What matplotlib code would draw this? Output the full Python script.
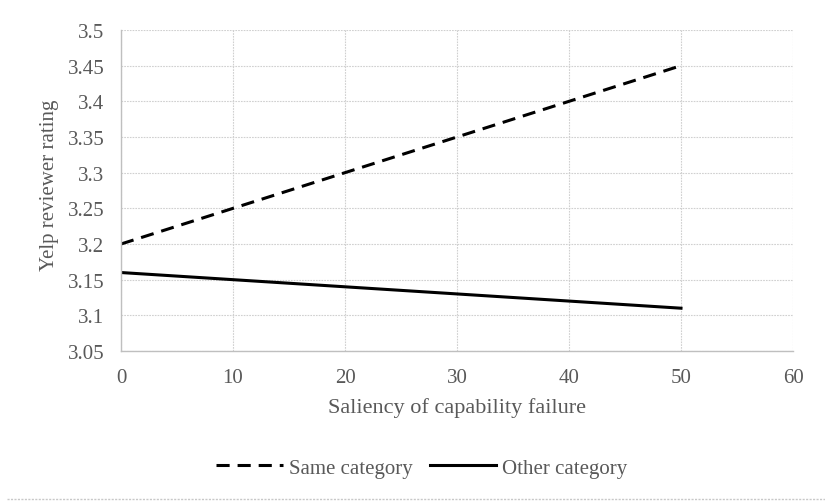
import matplotlib.pyplot as plt

# Data
saliency = [0, 10, 20, 30, 40, 50]
same_category = [3.20, 3.25, 3.30, 3.35, 3.40, 3.45]
other_category = [3.16, 3.15, 3.14, 3.13, 3.12, 3.11]

plt.rcParams['font.family'] = ['Liberation Serif', 'DejaVu Serif']

fig = plt.figure(figsize=(8.25, 5.02), dpi=100)
ax = fig.add_axes([121 / 825, 1 - 352 / 502, (793 - 121) / 825, (352 - 31) / 502])

gray = '#595959'
ax.plot(saliency, same_category, color='black', lw=2.2, dashes=(4.3, 2.6),
        label='Same category')
ax.plot(saliency, other_category, color='black', lw=2.2, label='Other category')

ax.set_xlim(0, 60)
ax.set_ylim(3.05, 3.5)
ax.set_xticks(range(0, 61, 10))
ax.set_yticks([3.05 + 0.05 * i for i in range(10)])
ax.set_yticklabels(['3.05', '3.1', '3.15', '3.2', '3.25', '3.3', '3.35', '3.4', '3.45', '3.5'])

ax.grid(True, color='#d0d0d0', linestyle=(0, (1.5, 1)), linewidth=0.8)
ax.set_axisbelow(True)
for s in ['top', 'right']:
    ax.spines[s].set_visible(False)
for s in ['left', 'bottom']:
    ax.spines[s].set_color('#bfbfbf')
    ax.spines[s].set_linewidth(1.0)
ax.tick_params(length=0, colors=gray, labelsize=15)
ax.tick_params(axis='x', pad=12)
ax.tick_params(axis='y', pad=12)

ax.set_xlabel('Saliency of capability failure', fontsize=16, color=gray)
ax.set_ylabel('Yelp reviewer rating', fontsize=15, color=gray)
ax.xaxis.label.set_verticalalignment('center')
ax.xaxis.set_label_coords(0.5, 1 - (408 - 31) / (352 - 31), transform=ax.transAxes)
ax.yaxis.label.set_verticalalignment('center')
ax.yaxis.set_label_coords((50 - 121) / (793 - 121), 0.52)

leg = fig.legend(loc='center', bbox_to_anchor=(422 / 825, 1 - 469 / 502), ncol=2,
                 frameon=False, fontsize=15, handlelength=3.2, handletextpad=0.3,
                 columnspacing=0.8)
for t in leg.get_texts():
    t.set_color(gray)

# bottom separator line
fig.add_artist(plt.Line2D([7 / 825, 1], [1 - 499.5 / 502] * 2, color='#c8c8c8',
                          lw=1.0, linestyle=(0, (1.5, 1)), transform=fig.transFigure))

fig.savefig('out.png', dpi=100)
